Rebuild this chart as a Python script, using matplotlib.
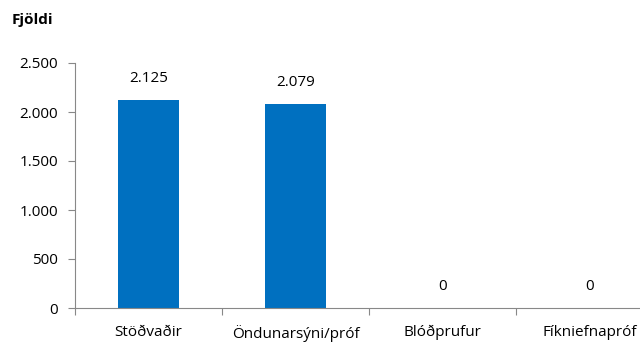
import matplotlib
matplotlib.use("Agg")
import matplotlib.pyplot as plt
from matplotlib.ticker import FuncFormatter, FixedLocator

categories = ["Stöðvaðir", "Öndunarsýni/próf", "Blóðprufur", "Fíkniefnapróf"]
values = [2125, 2079, 0, 0]
yticks = [0, 500, 1000, 1500, 2000, 2500]

def fmt(v):
    return f"{int(v):,}".replace(",", ".")

plt.rcParams['font.family'] = ['Open Sans', 'DejaVu Sans']
fig = plt.figure(figsize=(6.4, 3.45), dpi=100)
ax = fig.add_axes([75/640, 37/345, 588/640, 245/345])
x = list(range(len(categories)))
ax.bar(x, values, width=0.41, color="#0070C0", zorder=2)
for xi, v in zip(x, values):
    ax.annotate(fmt(v), (xi, v), xytext=(0, 10), textcoords="offset points",
                ha="center", va="bottom", fontsize=11, color="#000000")
ax.set_xlim(-0.5, len(categories) - 0.5)
ax.set_ylim(0, 2500)
ax.set_yticks(yticks)
ax.yaxis.set_major_formatter(FuncFormatter(lambda v, p: fmt(v)))
ax.xaxis.set_major_locator(FixedLocator([i - 0.5 for i in range(len(categories) + 1)]))
ax.xaxis.set_major_formatter(FuncFormatter(lambda v, p: ""))
ax.xaxis.set_minor_locator(FixedLocator(x))
ax.set_xticklabels(categories, minor=True, fontsize=11)
ax.tick_params(axis="x", which="minor", length=0, pad=12)
ax.tick_params(axis="x", which="major", length=5, color="#888888", direction="out")
ax.tick_params(axis="y", length=5, color="#888888", labelsize=11, pad=7)
for s in ["top", "right"]:
    ax.spines[s].set_visible(False)
for s in ["left", "bottom"]:
    ax.spines[s].set_color("#888888")
fig.text(12/640, 1 - 20/345, "Fjöldi", fontsize=11, fontweight="bold", va="center", ha="left")
fig.savefig("out.png", dpi=100)
